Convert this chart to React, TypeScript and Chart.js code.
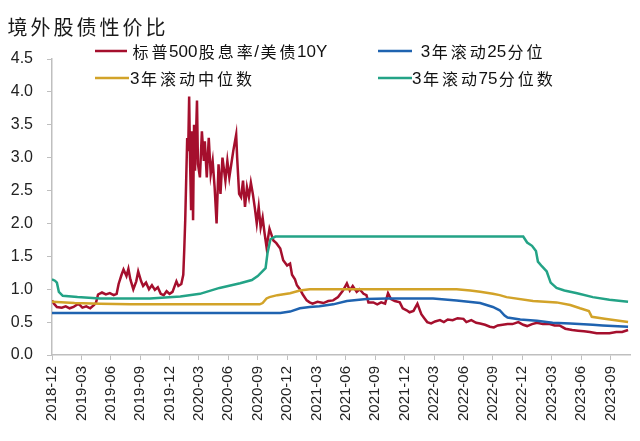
import React, { useEffect, useRef } from "react";
import { Chart, registerables } from "chart.js";

Chart.register(...registerables);

const TITLE = "境外股债性价比";
const LEGEND_LABELS = ["标普500股息率/美债10Y", " 3年滚动25分位", "3年滚动中位数", "3年滚动75分位数"];
const COLORS = ["#A50F2D", "#1F63B0", "#D2A329", "#23A386"];

// x positions: months since 2018-12
const TICK_MONTHS = [0, 3, 6, 9, 12, 15, 18, 21, 24, 27, 30, 33, 36, 39, 42, 45, 48, 51, 54, 57];
const TICK_LABELS = [
  "2018-12", "2019-03", "2019-06", "2019-09", "2019-12", "2020-03", "2020-06", "2020-09",
  "2020-12", "2021-03", "2021-06", "2021-09", "2021-12", "2022-03", "2022-06", "2022-09",
  "2022-12", "2023-03", "2023-06", "2023-09",
];
const Y_TICKS = [0, 0.5, 1, 1.5, 2, 2.5, 3, 3.5, 4, 4.5];

const RED_M = [
  0.0, 0.2, 0.5, 1.0, 1.4, 1.8, 2.2, 2.7, 3.1, 3.5, 3.9, 4.3, 4.5, 4.7, 5.1, 5.5, 5.9, 6.3, 6.6, 6.8,
  7.1, 7.3, 7.6, 7.8, 8.0, 8.3, 8.6, 8.8, 9.1, 9.3, 9.6, 9.9, 10.2, 10.5, 10.8, 11.1, 11.4, 11.7, 12.0, 12.3,
  12.7, 12.9, 13.2, 13.4, 13.5, 13.6, 13.8, 13.9, 14.0, 14.1, 14.2, 14.3, 14.4, 14.5, 14.6, 14.8, 14.9, 15.1, 15.3, 15.5,
  15.6, 15.8, 16.0, 16.2, 16.4, 16.6, 16.8, 17.0, 17.2, 17.4, 17.7, 17.9, 18.1, 18.3, 18.5, 18.8, 18.9, 19.1, 19.3, 19.5,
  19.7, 19.9, 20.1, 20.3, 20.5, 20.7, 20.9, 21.1, 21.3, 21.5, 21.7, 21.9, 22.2, 22.6, 22.9, 23.3, 23.6, 24.0, 24.3, 24.5,
  24.8, 25.0, 25.3, 25.6, 26.0, 26.3, 26.6, 27.1, 27.7, 28.2, 28.7, 29.2, 29.7, 30.1, 30.4, 30.7, 31.1, 31.4, 31.8, 32.1,
  32.3, 32.8, 33.2, 33.6, 34.0, 34.3, 34.6, 35.0, 35.5, 35.8, 36.2, 36.5, 36.9, 37.3, 37.7, 38.0, 38.3, 38.7, 39.1, 39.6,
  40.0, 40.4, 40.9, 41.4, 42.0, 42.3, 42.8, 43.3, 43.7, 44.2, 44.7, 45.1, 45.5, 46.0, 46.5, 47.0, 47.6, 48.1, 48.5, 49.0,
  49.5, 50.1, 50.8, 51.3, 51.8, 52.4, 53.1, 53.7, 54.3, 54.9, 55.6, 56.3, 56.9, 57.6, 58.2, 58.8,
];
const RED_V = [
  0.83, 0.78, 0.73, 0.72, 0.74, 0.71, 0.73, 0.78, 0.72, 0.74, 0.71, 0.76, 0.80, 0.92, 0.95, 0.92, 0.94, 0.91, 0.93, 1.08,
  1.22, 1.30, 1.20, 1.31, 1.15, 1.00, 1.12, 1.27, 1.12, 1.05, 1.10, 1.00, 1.06, 0.99, 1.03, 0.93, 0.91, 0.97, 0.93, 0.96,
  1.12, 1.05, 1.08, 1.22, 1.60, 2.05, 3.30, 3.10, 3.93, 2.90, 2.20, 3.40, 2.05, 3.50, 2.80, 3.87, 2.90, 2.70, 3.40, 2.95,
  3.25, 2.70, 3.30, 2.75, 2.95, 2.55, 2.00, 2.90, 2.45, 3.00, 2.65, 2.95, 2.70, 2.90, 3.10, 3.35, 3.00, 2.45, 2.40, 2.65,
  2.25, 2.55, 2.40, 2.62, 2.45, 2.24, 2.00, 2.25, 1.94, 2.09, 1.85, 1.64, 1.92, 1.74, 1.70, 1.62, 1.44, 1.36, 1.39, 1.22,
  1.15, 1.06, 1.00, 0.92, 0.83, 0.80, 0.78, 0.81, 0.79, 0.82, 0.83, 0.88, 0.98, 1.09, 0.98, 1.05, 0.96, 1.00, 0.93, 0.91,
  0.80, 0.80, 0.77, 0.80, 0.78, 0.94, 0.85, 0.82, 0.80, 0.71, 0.68, 0.65, 0.67, 0.78, 0.62, 0.56, 0.50, 0.48, 0.51, 0.53,
  0.50, 0.54, 0.53, 0.56, 0.55, 0.50, 0.53, 0.49, 0.48, 0.46, 0.43, 0.42, 0.45, 0.46, 0.47, 0.47, 0.50, 0.46, 0.44, 0.47,
  0.49, 0.47, 0.47, 0.45, 0.45, 0.40, 0.38, 0.37, 0.36, 0.35, 0.33, 0.33, 0.33, 0.35, 0.35, 0.38,
];

const P25_M = [0, 23.3, 24.3, 25.3, 26.3, 27.3, 28.7, 30.1, 32.1, 34.2, 38.9, 41.3, 43.7, 45.0, 45.7, 46.2, 46.5, 47.8, 49.5, 51.1, 52.9, 55.2, 56.2, 58.8];
const P25_V = [0.64, 0.64, 0.66, 0.71, 0.73, 0.74, 0.77, 0.82, 0.85, 0.86, 0.86, 0.83, 0.79, 0.73, 0.68, 0.60, 0.57, 0.54, 0.52, 0.49, 0.48, 0.46, 0.45, 0.43];

const MED_M = [0, 2.3, 4.9, 8.0, 21.2, 21.5, 21.9, 22.2, 23.0, 24.3, 25.3, 26.3, 41.3, 42.7, 43.7, 45.0, 45.7, 46.4, 49.1, 51.5, 52.9, 53.9, 54.8, 55.1, 56.4, 58.8];
const MED_V = [0.81, 0.79, 0.78, 0.77, 0.77, 0.79, 0.86, 0.88, 0.91, 0.94, 0.98, 1.00, 1.00, 0.98, 0.96, 0.93, 0.91, 0.88, 0.82, 0.80, 0.76, 0.71, 0.67, 0.58, 0.55, 0.50];

const P75_M = [0, 0.3, 0.5, 0.7, 1.1, 2.6, 4.9, 10.0, 13.1, 15.1, 17.1, 19.2, 20.4, 21.0, 21.8, 22.0, 22.3, 22.8, 48.1, 48.5, 49.0, 49.4, 49.6, 50.0, 50.5, 50.9, 51.5, 52.3, 53.6, 55.2, 56.9, 58.8];
const P75_V = [1.15, 1.13, 1.10, 0.96, 0.90, 0.88, 0.86, 0.86, 0.89, 0.93, 1.02, 1.09, 1.14, 1.20, 1.32, 1.55, 1.76, 1.80, 1.80, 1.71, 1.66, 1.58, 1.42, 1.35, 1.27, 1.10, 1.02, 0.98, 0.94, 0.88, 0.84, 0.81];

const pts = (m: number[], v: number[]) => m.map((x, i) => ({ x, y: v[i] }));

const isCJK = (ch: string) => /[\u3000-\u9fff\uff00-\uffef]/.test(ch);

// Draw text with CJK chars in fixed-width cells, Latin runs at natural width.
function drawMixed(ctx: CanvasRenderingContext2D, text: string, x: number, y: number, cjkFont: string, latinFont: string, cell: number) {
  let cx = x;
  let run = "";
  const flush = () => {
    if (!run) return;
    ctx.font = latinFont;
    ctx.fillText(run, cx, y);
    cx += ctx.measureText(run).width;
    run = "";
  };
  for (const ch of Array.from(text)) {
    if (isCJK(ch)) {
      flush();
      ctx.font = cjkFont;
      const w = ctx.measureText(ch).width;
      ctx.fillText(ch, cx + (cell - w) / 2, y);
      cx += cell;
    } else {
      run += ch;
    }
  }
  flush();
}

const overlayPlugin = {
  id: "overlay",
  afterDraw(chart: any) {
    const ctx: CanvasRenderingContext2D = chart.ctx;
    ctx.save();
    ctx.textBaseline = "middle";
    ctx.textAlign = "left";
    ctx.fillStyle = "#1a1a1a";
    drawMixed(ctx, TITLE, 6, 27, "20px 'Noto Sans CJK SC', sans-serif", "20px 'Liberation Sans', sans-serif", 23);

    const items = [
      { i: 0, x1: 95, x2: 127, tx: 131, y: 51 },
      { i: 1, x1: 378, x2: 412, tx: 416, y: 51 },
      { i: 2, x1: 95, x2: 129, tx: 130, y: 78 },
      { i: 3, x1: 378, x2: 412, tx: 412, y: 78 },
    ];
    for (const it of items) {
      ctx.strokeStyle = COLORS[it.i];
      ctx.lineWidth = 2.5;
      ctx.beginPath();
      ctx.moveTo(it.x1, it.y);
      ctx.lineTo(it.x2, it.y);
      ctx.stroke();
      ctx.fillStyle = "#111";
      drawMixed(ctx, LEGEND_LABELS[it.i], it.tx, it.y + 1, "16px 'Noto Sans CJK SC', sans-serif", "17px 'Liberation Sans', Arial, sans-serif", 19);
    }
    ctx.restore();
  },
};

export default function App() {
  const ref = useRef<HTMLCanvasElement | null>(null);
  useEffect(() => {
    document.body.style.margin = "0";
    const canvas = ref.current!;
    const mk = (label: string, m: number[], v: number[], color: string, w: number) => ({
      label,
      data: pts(m, v),
      borderColor: color,
      backgroundColor: color,
      borderWidth: w,
      pointRadius: 0,
      tension: 0,
      fill: false,
    });
    const chart = new Chart(canvas, {
      type: "line",
      data: {
        datasets: [
          mk(LEGEND_LABELS[3], P75_M, P75_V, COLORS[3], 2.5),
          mk(LEGEND_LABELS[2], MED_M, MED_V, COLORS[2], 2.5),
          mk(LEGEND_LABELS[1], P25_M, P25_V, COLORS[1], 2.5),
          mk(LEGEND_LABELS[0], RED_M, RED_V, COLORS[0], 2.5),
        ],
      },
      options: {
        animation: false,
        responsive: true,
        maintainAspectRatio: false,
        layout: { padding: { top: 59, right: 10, left: 0, bottom: 0 } },
        plugins: { legend: { display: false }, title: { display: false }, tooltip: { enabled: false } },
        scales: {
          x: {
            type: "linear",
            min: 0,
            max: 59,
            afterBuildTicks: (s: any) => {
              s.ticks = TICK_MONTHS.map((v) => ({ value: v }));
            },
            afterFit: (s: any) => {
              s.height = 86;
            },
            ticks: {
              autoSkip: false,
              minRotation: 90,
              maxRotation: 90,
              padding: 6,
              color: "#222",
              font: { family: "'Liberation Sans', Arial, sans-serif", size: 15 },
              callback: (v: any) => {
                const i = TICK_MONTHS.indexOf(Number(v));
                return i >= 0 ? TICK_LABELS[i] : "";
              },
            },
            grid: { display: true, drawOnChartArea: false, drawTicks: true, tickLength: 5, color: "#BFBFBF", lineWidth: 1 },
            border: { display: true, color: "#BFBFBF", width: 1.5 },
          },
          y: {
            type: "linear",
            min: 0,
            max: 4.5,
            afterBuildTicks: (s: any) => {
              s.ticks = Y_TICKS.map((v) => ({ value: v }));
            },
            afterFit: (s: any) => {
              s.width = 52;
            },
            ticks: {
              padding: 14,
              color: "#222",
              font: { family: "'Liberation Sans', Arial, sans-serif", size: 16 },
              callback: (v: any) => Number(v).toFixed(1),
            },
            grid: { display: true, drawOnChartArea: false, drawTicks: true, tickLength: 5, color: "#BFBFBF", lineWidth: 1 },
            border: { display: true, color: "#BFBFBF", width: 1.5 },
          },
        },
      },
      plugins: [overlayPlugin],
    } as any);
    return () => chart.destroy();
  }, []);
  return (
    <div style={{ position: "fixed", left: 0, top: 0, width: 640, height: 441, background: "#fff" }}>
      <canvas ref={ref} />
    </div>
  );
}
